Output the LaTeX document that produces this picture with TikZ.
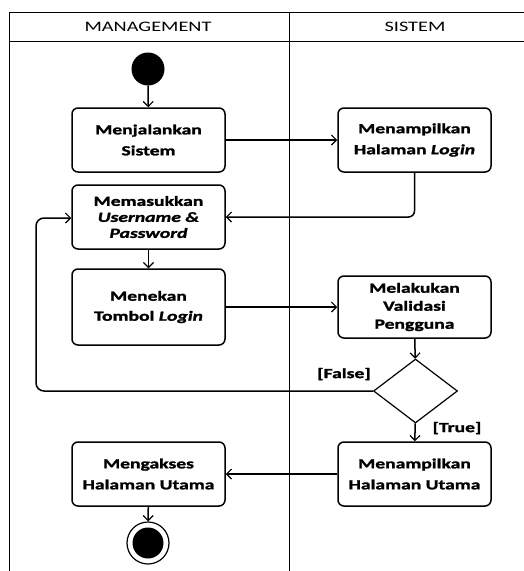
\documentclass[tikz,border=0pt]{standalone}
\usepackage{fontspec}
\setmainfont{Carlito}[FakeStretch=1.40,BoldFeatures={FakeBold=1.6},BoldItalicFeatures={FakeBold=1.6}]
\usetikzlibrary{arrows.meta,shapes.geometric}
\begin{document}
\begin{tikzpicture}[x=1pt,y=-1pt,
  frameline/.style={line width=0.9pt,black},
  actbox/.style={draw,line width=1.5pt,rounded corners=6pt,minimum width=153pt,minimum height=64pt,
    align=center,inner sep=2pt,font=\fontsize{14}{21}\selectfont\bfseries},
  flow/.style={line width=1.5pt,-{Straight Barb[length=5pt,width=10pt,line width=1.2pt]}},
  guard/.style={font=\fontsize{14}{16}\selectfont\bfseries,inner sep=0pt},
  lanetitle/.style={font=\fontsize{14.5}{17}\selectfont,inner sep=0pt}]
\useasboundingbox (0,0) rectangle (524,571);
% swimlane frame
\draw[frameline] (9,571) -- (9,12) -- (524,12);
\draw[frameline] (9,41) -- (524,41);
\draw[frameline] (289,12) -- (289,571);
\node[lanetitle] (lm) at (148,27) {MANAGEMENT};
\node[lanetitle] (ls) at (415,27) {SISTEM};
% nodes
\node[circle,fill=black,minimum size=33pt,inner sep=0pt] (start) at (148,69) {};
\node[actbox] (b1) at (148.5,140) {Menjalankan\\Sistem};
\node[actbox] (b2) at (414.5,140) {Menampilkan\\Halaman \textit{Login}};
\node[actbox,font=\fontsize{14}{16}\selectfont\bfseries] (b3) at (148.5,217) {Memasukkan\\\textit{Username \&}\\\textit{Password}};
\node[actbox,minimum height=76pt,font=\fontsize{14}{20}\selectfont\bfseries] (b4) at (148.5,307) {Menekan\\Tombol \textit{Login}};
\node[actbox,minimum height=62pt,font=\fontsize{14}{18}\selectfont\bfseries] (b5) at (414.5,307) {Melakukan\\Validasi\\Pengguna};
\node[diamond,draw,line width=1.2pt,minimum width=84pt,minimum height=64pt,inner sep=0pt,aspect=1.3] (dec) at (415.5,391) {};
\node[actbox] (b6) at (414.5,474) {Menampilkan\\Halaman Utama};
\node[actbox] (b7) at (148.5,474) {Mengakses\\Halaman Utama};
\node[circle,draw,line width=1.2pt,minimum size=42pt,inner sep=0pt] (endo) at (148,543) {};
\node[circle,fill=black,minimum size=31pt,inner sep=0pt] (endi) at (148,543) {};
\node[guard] (gf) at (344,374) {[False]};
\node[guard] (gt) at (457,428) {[True]};
% connectors
\draw[flow] (start) -- (b1);
\draw[flow] (b1) -- (b2);
\draw[flow,rounded corners=6pt] (b2.south) |- (b3.east);
\draw[flow] (b3) -- (b4);
\draw[flow] (b4.east |- 0,307) -- (b5.west |- 0,307);
\draw[flow] (b5) -- (dec);
\draw[flow,rounded corners=8pt] (dec.west) -- (36,391) -- (36,218) -- (b3.west |- 0,218);
\draw[flow] (dec) -- (b6);
\draw[flow] (b6) -- (b7);
\draw[flow] (b7) -- (endo);
\end{tikzpicture}
\end{document}
